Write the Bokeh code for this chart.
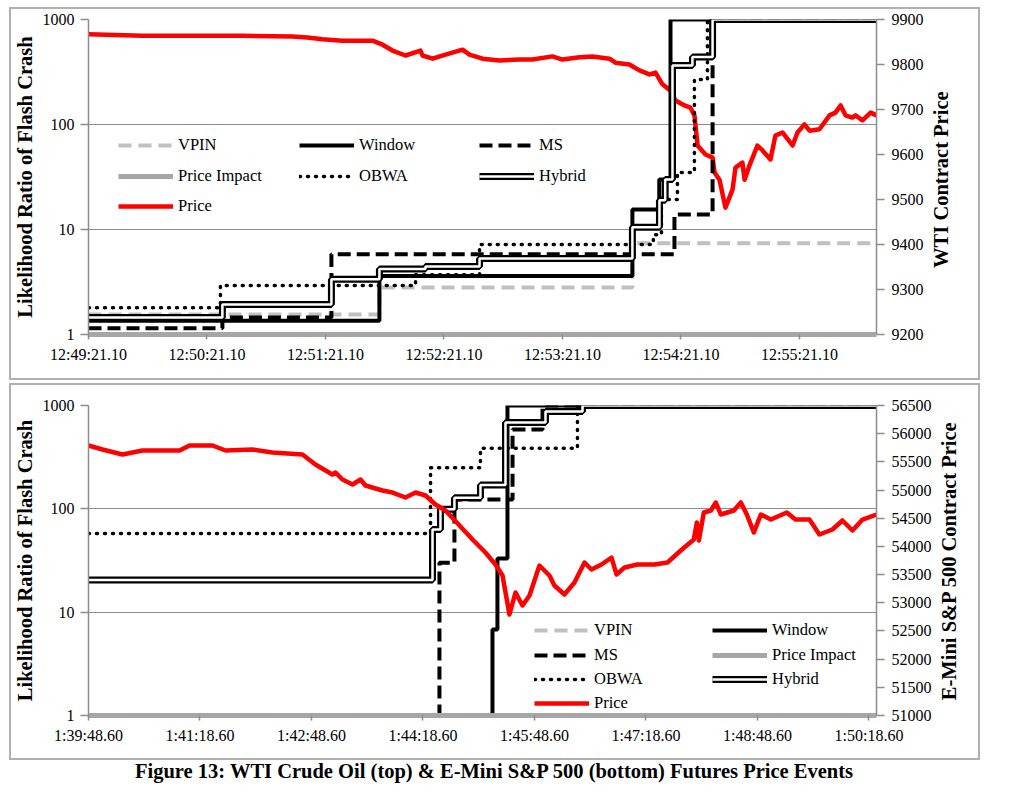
import math
from bokeh.plotting import figure
from bokeh.models import (Range1d, LinearAxis, LinearScale, FixedTicker, Legend, LegendItem,
                          Div, BasicTickFormatter)
from bokeh.layouts import column
from bokeh.embed import file_html
from bokeh.resources import INLINE

SERIF = "Liberation Serif"
NBSP = "\u00a0"

# ---------------- WTI Crude Oil (top panel) ----------------
wti_tick_secs = [0, 60, 120, 180, 240, 300, 360]
wti_tick_labels = ["12:49:21.10", "12:50:21.10", "12:51:21.10", "12:52:21.10",
                   "12:53:21.10", "12:54:21.10", "12:55:21.10"]
wti_t_end = 399.0
wti_price_ticks = [9200, 9300, 9400, 9500, 9600, 9700, 9800, 9900]

wti_vpin_t = [0, 147.3, 275.4]
wti_vpin_v = [1.55, 2.8, 7.4]
wti_window_t = [0, 147.3, 275.4, 289.0, 294.7]
wti_window_v = [1.35, 3.6, 15.5, 30, 1000]
wti_ms_t = [0, 67.8, 123.0, 296.7, 316.0]
wti_ms_v = [1.15, 1.45, 5.8, 13.9, 1000]
wti_impact_t = [0]
wti_impact_v = [1.0]
wti_obwa_t = [0, 66.8, 165.6, 198.0, 286.0, 290.1, 298.2, 306.8, 313.4]
wti_obwa_v = [1.8, 2.93, 3.7, 7.2, 8.9, 19.3, 34.9, 268, 1000]
wti_hybrid_t = [0, 67.8, 123.0, 147.3, 170.6, 198.0, 275.4, 289.1, 292.0, 295.7, 305.8, 316.0]
wti_hybrid_v = [1.45, 1.93, 3.35, 4.2, 4.45, 5.3, 10.5, 19, 30, 365, 440, 1000]

wti_price_t = [0, 27.3, 52.7, 78.0, 103.3, 110.9, 118.5, 128.6, 143.8, 148.9,
               153.9, 160.5, 168.1, 169.1, 174.2, 180.8, 189.4, 192.9, 199.5, 208.1,
               218.2, 224.8, 234.9, 240.0, 248.6, 255.2, 263.8, 266.8, 273.9, 279.0,
               284.0, 287.1, 290.6, 294.7, 297.2, 301.8, 304.8, 306.8, 308.4, 312.4,
               316.0, 317.0, 319.5, 322.5, 326.1, 327.6, 331.1, 332.2, 334.7, 338.7,
               341.3, 345.3, 347.8, 351.4, 356.5, 359.0, 362.5, 365.1, 370.1, 375.2,
               378.2, 380.8, 383.3, 386.8, 388.4, 391.9, 396.0, 399.0]
wti_price_p = [9867, 9864, 9864, 9864, 9862, 9860, 9856, 9853, 9853, 9844,
               9831, 9820, 9831, 9820, 9813, 9822, 9833, 9822, 9813, 9809,
               9811, 9811, 9818, 9811, 9816, 9818, 9813, 9804, 9800, 9787,
               9778, 9782, 9756, 9742, 9720, 9709, 9704, 9687, 9620, 9600,
               9593, 9560, 9544, 9482, 9522, 9571, 9582, 9544, 9576, 9620,
               9609, 9589, 9642, 9649, 9620, 9649, 9667, 9653, 9656, 9687,
               9693, 9709, 9687, 9682, 9687, 9676, 9693, 9687]

# ---------------- E-Mini S&P 500 (bottom panel) ----------------
sp_tick_secs = [0, 90, 180, 270, 360, 450, 540, 630]
sp_tick_labels = ["1:39:48.60", "1:41:18.60", "1:42:48.60", "1:44:18.60",
                  "1:45:48.60", "1:47:18.60", "1:48:48.60", "1:50:18.60"]
sp_t_end = 636.1
sp_price_ticks = [51000, 51500, 52000, 52500, 53000, 53500, 54000, 54500,
                  55000, 55500, 56000, 56500]

sp_vpin_t = [0]
sp_vpin_v = [1.0]
sp_window_t = [0, 326.1, 330.1, 338.2]
sp_window_v = [0.5, 6.8, 33, 1000]
sp_ms_t = [0, 283.3, 295.4, 342.3, 366.5]
sp_ms_v = [0.5, 30, 123, 585, 1000]
sp_impact_t = [0]
sp_impact_v = [1.0]
sp_obwa_t = [0, 276.1, 316.4, 394.7]
sp_obwa_v = [57.6, 250, 385, 1000]
sp_hybrid_t = [0, 277.7, 284.1, 295.4, 316.4, 336.6, 368.9, 398.8]
sp_hybrid_v = [20.5, 63, 99, 128, 170, 686, 875, 1000]

sp_price_t = [0, 11.3, 27.4, 43.6, 62.2, 73.5, 81.5, 100.1, 110.6, 132.4,
              148.5, 172.7, 183.2, 196.9, 199.4, 205.0, 213.1, 219.6, 223.6, 237.3,
              245.4, 255.9, 264.0, 272.0, 280.1, 288.2, 299.5, 310.0, 320.4, 328.5,
              334.2, 339.8, 344.7, 350.3, 356.0, 364.0, 372.1, 376.1, 384.2, 392.3,
              400.4, 406.0, 414.1, 422.2, 426.2, 432.7, 443.1, 456.9, 467.4, 478.1,
              488.6, 491.1, 492.7, 496.7, 502.4, 506.4, 510.4, 520.9, 526.6, 531.4,
              537.1, 542.7, 550.8, 563.7, 570.7, 582.0, 590.0, 600.5, 608.6, 616.7,
              624.8, 636.1]
sp_price_p = [55790, 55719, 55631, 55702, 55702, 55702, 55790, 55790, 55702, 55719,
              55666, 55631, 55453, 55276, 55311, 55187, 55098, 55187, 55081, 54992,
              54956, 54868, 54956, 54903, 54744, 54637, 54371, 54123, 53892, 53679,
              53484, 52792, 53182, 52952, 53129, 53661, 53484, 53306, 53147, 53360,
              53714, 53590, 53679, 53803, 53502, 53626, 53679, 53679, 53714, 53927,
              54123, 54424, 54105, 54602, 54637, 54779, 54566, 54637, 54779, 54566,
              54247, 54566, 54477, 54602, 54477, 54477, 54211, 54300, 54460, 54282,
              54477, 54566]

caption = "Figure 13: WTI Crude Oil (top) &amp; E-Mini S&amp;P 500 (bottom) Futures Price Events"

AXIS_GRAY = "#8c8c8c"
BOX_GRAY = "#b0b0b0"


def steps(t, v, t_end):
    return list(t) + [t_end], list(v) + [v[-1]]


def box_background(left, top, right, bottom, w=2):
    g = "linear-gradient(%s,%s)" % (BOX_GRAY, BOX_GRAY)
    W = right - left
    H = bottom - top
    layers = [
        "%s %dpx %dpx / %dpx %dpx no-repeat" % (g, left, top, W, w),
        "%s %dpx %dpx / %dpx %dpx no-repeat" % (g, left, bottom - w, W, w),
        "%s %dpx %dpx / %dpx %dpx no-repeat" % (g, left, top, w, H),
        "%s %dpx %dpx / %dpx %dpx no-repeat" % (g, right - w, top, w, H),
    ]
    return ", ".join(layers)


def style_axis(ax, tick_out):
    ax.axis_line_color = AXIS_GRAY
    ax.axis_line_width = 1.5
    ax.major_tick_line_color = AXIS_GRAY
    ax.major_tick_line_width = 1.5
    ax.major_tick_out = tick_out
    ax.major_tick_in = 0
    ax.minor_tick_line_color = None
    ax.major_label_text_font = SERIF
    ax.major_label_text_font_size = "16px"
    ax.major_label_text_color = "black"
    ax.axis_label_text_font = SERIF
    ax.axis_label_text_font_size = "20.5px"
    ax.axis_label_text_font_style = "bold"
    ax.axis_label_text_color = "black"


def build_panel(width, height, borders, box, x_end, price_range, price_ticks,
                tick_secs, tick_labels, price_title, title_pad, data, price_t, price_p,
                price_on_top, legend_pos):
    p = figure(width=width, height=height, x_range=Range1d(0, x_end),
               y_range=Range1d(1, 1000), y_axis_type="log",
               output_backend="svg", toolbar_location=None,
               min_border_left=borders[0], min_border_right=borders[1],
               min_border_top=borders[2], min_border_bottom=borders[3],
               background_fill_color="white", border_fill_alpha=0,
               outline_line_color=None, margin=0,
               styles={"background": box_background(*box)})
    p.xgrid.visible = False
    p.ygrid[0].ticker = FixedTicker(ticks=[10, 100, 1000])
    p.ygrid.grid_line_color = AXIS_GRAY
    p.ygrid.grid_line_width = 1.2

    yax = p.yaxis[0]
    yax.ticker = FixedTicker(ticks=[1, 10, 100, 1000])
    yax.formatter = BasicTickFormatter()
    yax.major_label_overrides = {1: "1", 10: "10", 100: "100", 1000: "1000"}
    yax.axis_label = "Likelihood Ratio of Flash Crash"
    style_axis(yax, 8)
    yax.major_label_standoff = 6
    yax.axis_label_standoff = 4

    xax = p.xaxis[0]
    xax.ticker = FixedTicker(ticks=tick_secs)
    xax.major_label_overrides = dict(zip(tick_secs, tick_labels))
    style_axis(xax, 5)
    xax.axis_line_color = "#a6a6a6"
    xax.axis_line_width = 5
    xax.major_label_standoff = 6

    p.extra_y_ranges = {"price": Range1d(*price_range)}
    p.extra_y_scales = {"price": LinearScale()}
    rax = LinearAxis(y_range_name="price", ticker=FixedTicker(ticks=price_ticks))
    style_axis(rax, 8)
    rax.major_label_standoff = 7
    # label reads bottom-to-top like the reference; it starts at the axis bottom,
    # so it is padded with no-break spaces to sit centred along the axis
    rax.axis_label_orientation = math.pi / 2
    rax.axis_label_align = "start"
    rax.axis_label = NBSP * title_pad + price_title
    rax.axis_label_standoff = 14
    p.add_layout(rax, "right")

    rend = {}

    def draw_price():
        rend["Price"] = [p.line(price_t, price_p, y_range_name="price", line_color="#ff0000",
                                line_width=4.5, line_join="round")]

    if not price_on_top:
        draw_price()
    x, y = steps(data["VPIN"][0], data["VPIN"][1], x_end)
    rend["VPIN"] = [p.step(x, y, mode="after", line_color="#c0c0c0", line_width=4,
                           line_dash="13 7")]
    x, y = steps(data["Window"][0], data["Window"][1], x_end)
    rend["Window"] = [p.step(x, y, mode="after", line_color="black", line_width=4)]
    x, y = steps(data["MS"][0], data["MS"][1], x_end)
    rend["MS"] = [p.step(x, y, mode="after", line_color="black", line_width=4,
                         line_dash="13 6")]
    x, y = steps(data["Price Impact"][0], data["Price Impact"][1], x_end)
    rend["Price Impact"] = [p.step(x, y, mode="after", line_color="#a6a6a6", line_width=5)]
    x, y = steps(data["OBWA"][0], data["OBWA"][1], x_end)
    rend["OBWA"] = [p.step(x, y, mode="after", line_color="black", line_width=3.5,
                           line_dash="1 7", line_cap="round")]
    x, y = steps(data["Hybrid"][0], data["Hybrid"][1], x_end)
    rend["Hybrid"] = [p.step(x, y, mode="after", line_color="black", line_width=7),
                      p.step(x, y, mode="after", line_color="white", line_width=2.5)]
    if price_on_top:
        draw_price()

    for name, (vx, vy) in legend_pos.items():
        lg = Legend(items=[LegendItem(label=name, renderers=rend[name])],
                    location=(vx, vy), orientation="vertical", padding=0, margin=0,
                    spacing=0, border_line_color=None, background_fill_alpha=0,
                    glyph_width=55, glyph_height=20, label_standoff=5, label_height=20,
                    label_text_font=SERIF, label_text_font_size="16.5px",
                    label_text_color="black", click_policy="none")
        p.add_layout(lg)
    return p


wti_data = {
    "VPIN": (wti_vpin_t, wti_vpin_v), "Window": (wti_window_t, wti_window_v),
    "MS": (wti_ms_t, wti_ms_v), "Price Impact": (wti_impact_t, wti_impact_v),
    "OBWA": (wti_obwa_t, wti_obwa_v), "Hybrid": (wti_hybrid_t, wti_hybrid_v),
}
sp_data = {
    "VPIN": (sp_vpin_t, sp_vpin_v), "Window": (sp_window_t, sp_window_v),
    "MS": (sp_ms_t, sp_ms_v), "Price Impact": (sp_impact_t, sp_impact_v),
    "OBWA": (sp_obwa_t, sp_obwa_v), "Hybrid": (sp_hybrid_t, sp_hybrid_v),
}

# legend item positions (frame px: left offset, bottom offset)
wti_legend = {"VPIN": (30, 179), "Window": (211, 179), "MS": (391, 179),
              "Price Impact": (30, 148), "OBWA": (211, 148), "Hybrid": (391, 148),
              "Price": (30, 118)}
sp_legend = {"VPIN": (446, 75), "Window": (624, 75),
             "MS": (446, 50), "Price Impact": (624, 50),
             "OBWA": (446, 26), "Hybrid": (624, 26),
             "Price": (446, 2)}

p1 = build_panel(982, 381, (88, 106, 19, 47), (9, 7, 980, 380), wti_t_end,
                 (9200, 9900), wti_price_ticks, wti_tick_secs, wti_tick_labels,
                 "WTI Contract Price", 13, wti_data, wti_price_t, wti_price_p, False,
                 wti_legend)
p2 = build_panel(982, 381, (88, 106, 24, 47), (9, 2, 980, 379), sp_t_end,
                 (51000, 56500), sp_price_ticks, sp_tick_secs, sp_tick_labels,
                 "E-Mini S&P 500 Contract Price", 3, sp_data, sp_price_t, sp_price_p, True,
                 sp_legend)

cap = Div(text="<b>" + caption + "</b>", width=988, height=24, margin=0,
          styles={"text-align": "center", "font-family": SERIF, "font-size": "20.5px",
                  "line-height": "18px", "font-weight": "bold", "color": "black"})

layout = column(p1, p2, cap, spacing=0)
open("out.html", "w").write(file_html(layout, INLINE))
